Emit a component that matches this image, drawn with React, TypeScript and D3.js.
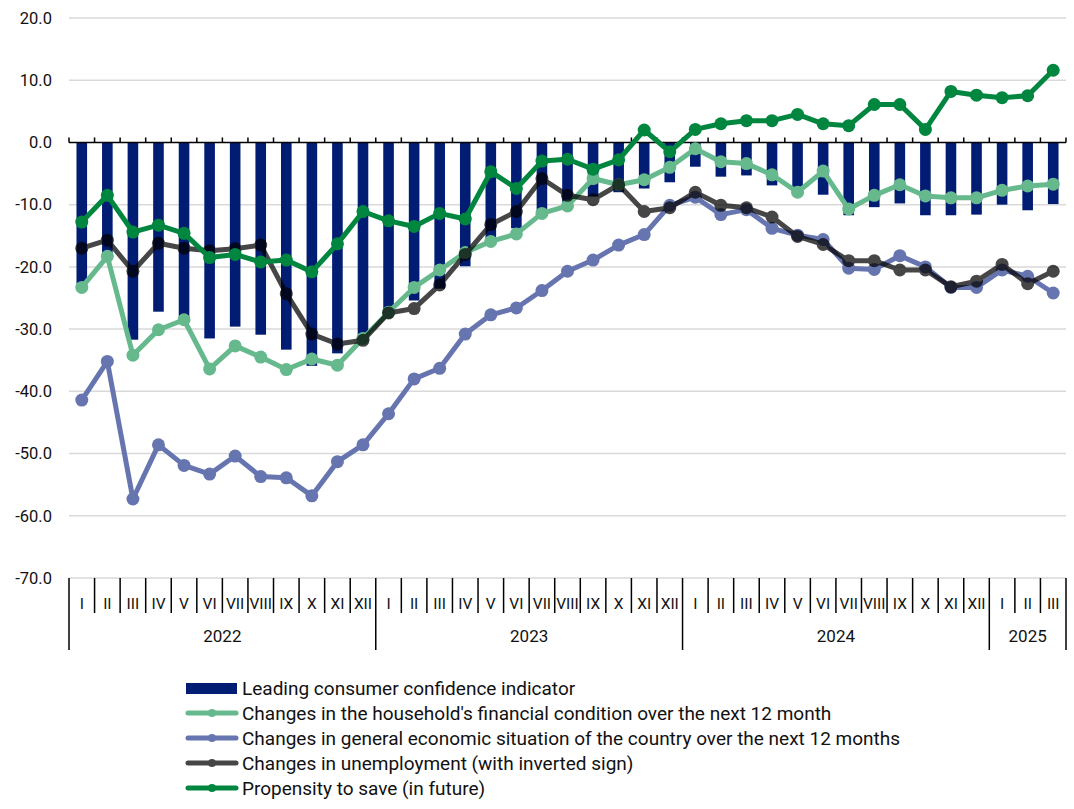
import React from "react";
import { scaleBand, scaleLinear, line, range } from "d3";

// values
const romans = ["I", "II", "III", "IV", "V", "VI", "VII", "VIII", "IX", "X", "XI", "XII"];
const years = ["2022", "2023", "2024", "2025"];
const monthsPerYear = [12, 12, 12, 3];
const yTicks = [20, 10, 0, -10, -20, -30, -40, -50, -60, -70];

const confidence = [
  -22.7, -18.6, -31.7, -27.2, -28.2, -31.5, -29.6, -30.9, -33.3, -35.9, -33.9, -31.5,
  -27.2, -25.4, -23.5, -19.9, -15.4, -13.8, -11.5, -9.8, -8.7, -8.0, -7.4, -6.4,
  -3.9, -5.5, -5.3, -6.9, -7.4, -8.4, -11.7, -10.4, -9.8, -11.7, -11.7, -11.6,
  -10.0, -10.9, -9.9,
];
const household = [
  -23.3, -18.3, -34.2, -30.1, -28.5, -36.4, -32.7, -34.5, -36.5, -34.8, -35.8, -31.5,
  -27.3, -23.3, -20.5, -17.7, -15.9, -14.7, -11.4, -10.2, -5.8, -6.8, -6.0, -4.0,
  -1.0, -3.1, -3.4, -5.2, -8.0, -4.6, -10.7, -8.5, -6.8, -8.6, -8.9, -8.9,
  -7.7, -7.0, -6.7,
];
const economy = [
  -41.4, -35.2, -57.3, -48.6, -51.9, -53.3, -50.4, -53.7, -53.9, -56.8, -51.3, -48.6,
  -43.6, -38.0, -36.3, -30.8, -27.7, -26.6, -23.8, -20.7, -18.9, -16.5, -14.8, -10.1,
  -8.8, -11.6, -10.8, -13.8, -14.9, -15.6, -20.2, -20.4, -18.2, -20.0, -23.3, -23.3,
  -20.5, -21.5, -24.2,
];
const unemployment = [
  -17.0, -15.7, -20.7, -16.2, -17.0, -17.4, -17.1, -16.5, -24.3, -30.8, -32.4, -31.8,
  -27.4, -26.7, -22.9, -18.0, -13.2, -11.1, -5.8, -8.5, -9.2, -6.8, -11.1, -10.5,
  -8.0, -10.1, -10.5, -12.0, -15.1, -16.4, -19.0, -19.0, -20.5, -20.5, -23.2, -22.3,
  -19.6, -22.7, -20.7,
];
const saving = [
  -12.8, -8.5, -14.4, -13.3, -14.6, -18.5, -18.0, -19.2, -18.9, -20.8, -16.3, -11.1,
  -12.6, -13.5, -11.4, -12.3, -4.7, -7.4, -3.0, -2.7, -4.3, -2.8, 2.0, -1.5,
  2.1, 3.0, 3.5, 3.5, 4.5, 3.0, 2.7, 6.1, 6.1, 2.1, 8.2, 7.6,
  7.2, 7.5, 11.6,
];

const barName = "Leading consumer confidence indicator";
const barColor = "#001c73";

const lineSeries = [
  { name: "Changes in the household's financial condition over the next 12 month", values: household, color: "#66b98d", opacity: 1 },
  { name: "Changes in general economic situation of the country over the next 12 months", values: economy, color: "#6675af", opacity: 1 },
  { name: "Changes in unemployment (with inverted sign)", values: unemployment, color: "#000000", opacity: 0.72 },
  { name: "Propensity to save (in future)", values: saving, color: "#00863f", opacity: 1 },
];

const W = 1074;
const H = 809;
const FONT = "'Roboto', 'Liberation Sans', sans-serif";

export default function App() {
  const months: string[] = [];
  monthsPerYear.forEach((n) => {
    for (let i = 0; i < n; i++) months.push(romans[i]);
  });
  const idx = range(months.length);

  const x = scaleBand<number>().domain(idx).range([69, 1066]).padding(0);
  const y = scaleLinear().domain([-70, 20]).range([578, 18]);
  const bw = x.bandwidth();
  const cx = (i: number) => (x(i) as number) + bw / 2;

  const path = line<number>()
    .x((_, i) => cx(i))
    .y((d) => y(d));

  // year boundaries (index of first month of each year + end)
  const yearStarts: number[] = [0];
  monthsPerYear.forEach((n, i) => yearStarts.push(yearStarts[i] + n));

  const boundaries = range(months.length + 1).map((i) => 69 + i * bw);
  const y0 = y(0);

  return (
    <svg
      width={W}
      height={H}
      style={{ position: "absolute", left: 0, top: 0, background: "#fff" }}
      fontFamily={FONT}
    >
      {/* grid */}
      {yTicks.map((t) => (
        <g key={t}>
          {t !== 0 && (
            <line x1={69} x2={1066} y1={y(t)} y2={y(t)} stroke="#d9d9d9" strokeWidth={1.5} />
          )}
          <text x={52} y={y(t)} dy="0.35em" textAnchor="end" fontSize={16.5} fill="#111">
            {t.toFixed(1)}
          </text>
        </g>
      ))}

      {/* bars */}
      {confidence.map((v, i) => (
        <rect
          key={i}
          x={cx(i) - 5.3}
          width={10.6}
          y={Math.min(y(v), y0)}
          height={Math.abs(y(v) - y0)}
          fill={barColor}
        />
      ))}

      {/* zero axis with ticks */}
      <line x1={69} x2={1066} y1={y0} y2={y0} stroke="#000" strokeWidth={1.5} />
      {boundaries.map((bx, i) => (
        <line key={i} x1={bx} x2={bx} y1={y0} y2={y0 - 5} stroke="#000" strokeWidth={1.5} />
      ))}

      {/* lines */}
      {lineSeries.map((s) => (
        <g key={s.name} opacity={s.opacity}>
          <path d={path(s.values) || ""} fill="none" stroke={s.color} strokeWidth={5} strokeLinejoin="round" />
          {s.values.map((v, i) => (
            <circle key={i} cx={cx(i)} cy={y(v)} r={6.5} fill={s.color} />
          ))}
        </g>
      ))}

      {/* category axis */}
      {boundaries.map((bx, i) => (
        <line
          key={i}
          x1={bx}
          x2={bx}
          y1={578}
          y2={yearStarts.includes(i) ? 650 : 613}
          stroke="#000"
          strokeWidth={1.5}
        />
      ))}
      {months.map((m, i) => (
        <text key={i} x={cx(i)} y={604} dy="0.35em" textAnchor="middle" fontSize={15.5} fill="#111">
          {m}
        </text>
      ))}
      {years.map((yr, k) => (
        <text
          key={yr}
          x={(boundaries[yearStarts[k]] + boundaries[yearStarts[k + 1]]) / 2}
          y={636}
          dy="0.35em"
          textAnchor="middle"
          fontSize={17}
          fill="#111"
        >
          {yr}
        </text>
      ))}

      {/* legend */}
      <g fontSize={19} fill="#111">
        <rect x={186} y={683} width={51} height={11} fill={barColor} />
        <text x={242} y={688} dy="0.35em">{barName}</text>
        {lineSeries.map((s, k) => {
          const ly = 713 + k * 25;
          return (
            <g key={s.name}>
              <g opacity={s.opacity}>
                <line x1={188} x2={236} y1={ly} y2={ly} stroke={s.color} strokeWidth={5} strokeLinecap="round" />
                <circle cx={212} cy={ly} r={4} fill={s.color} />
              </g>
              <text x={242} y={ly} dy="0.35em">{s.name}</text>
            </g>
          );
        })}
      </g>
    </svg>
  );
}
